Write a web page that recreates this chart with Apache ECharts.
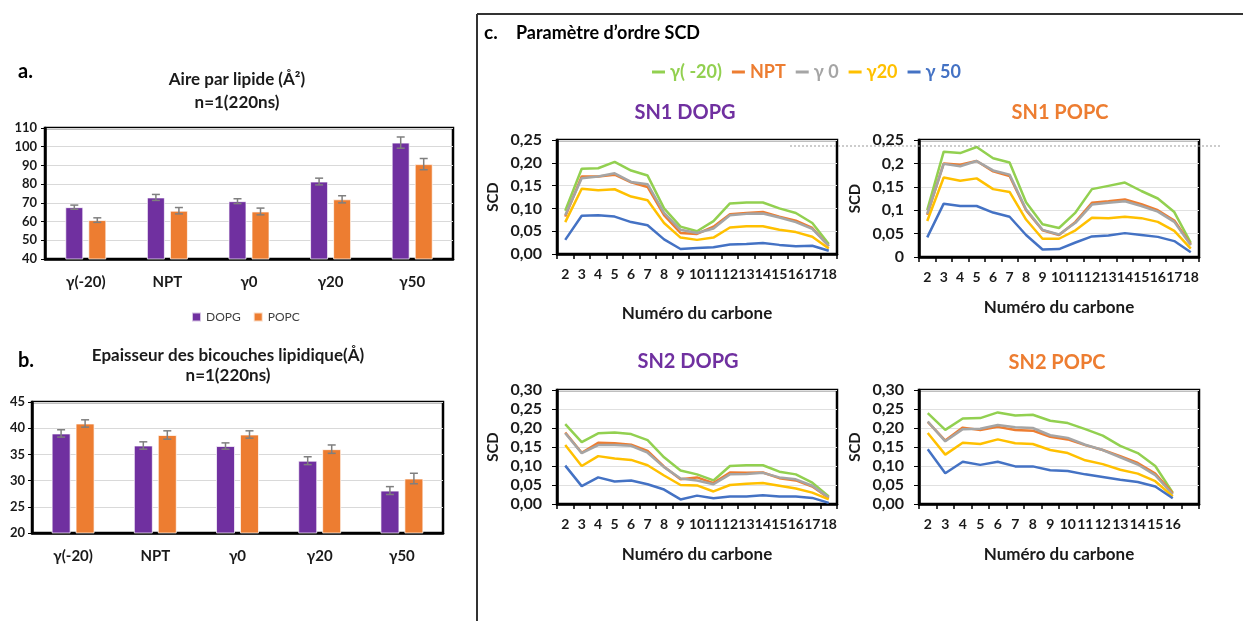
<!DOCTYPE html>
<html>
<head>
<meta charset="utf-8">
<script src="https://cdn.jsdelivr.net/npm/echarts@6/dist/echarts.min.js"></script>
<style>html,body{margin:0;padding:0;background:#fff;}#c{width:1243px;height:621px;}</style>
</head>
<body>
<div id="c"></div>
<script>
// ---------- DATA ----------
const conditions = ['γ(-20)', 'NPT', 'γ0', 'γ20', 'γ50'];
const barSeriesNames = ['DOPG', 'POPC'];

const areaDOPG = [67.7, 72.9, 70.9, 81.4, 102.2];
const areaDOPGErr = [1.1, 1.6, 1.3, 1.8, 3.0];
const areaPOPC = [60.8, 65.8, 65.4, 71.9, 90.7];
const areaPOPCErr = [1.2, 1.7, 1.8, 1.9, 3.0];

const thickDOPG = [39.0, 36.7, 36.6, 33.8, 28.1];
const thickDOPGErr = [0.7, 0.7, 0.6, 0.75, 0.75];
const thickPOPC = [40.9, 38.7, 38.8, 36.0, 30.4];
const thickPOPCErr = [0.7, 0.8, 0.7, 0.8, 1.0];

const scdNames = ['γ( -20)', 'NPT', 'γ 0', 'γ20', 'γ 50'];
const scdColors = ['#92D050', '#ED7D31', '#A5A5A5', '#FFC000', '#4472C4'];

const carbons18 = ['2','3','4','5','6','7','8','9','10','11','12','13','14','15','16','17','18'];
const carbons16 = ['2','3','4','5','6','7','8','9','10','11','12','13','14','15','16',''];

const sn1DOPG_m20 = [0.095,0.187,0.188,0.202,0.183,0.172,0.100,0.060,0.050,0.072,0.111,0.113,0.113,0.100,0.090,0.068,0.022];
const sn1DOPG_npt = [0.082,0.170,0.170,0.174,0.157,0.147,0.085,0.046,0.044,0.060,0.087,0.090,0.092,0.082,0.073,0.057,0.017];
const sn1DOPG_g0  = [0.085,0.166,0.170,0.177,0.158,0.153,0.090,0.053,0.046,0.056,0.085,0.088,0.089,0.080,0.070,0.055,0.018];
const sn1DOPG_g20 = [0.070,0.143,0.140,0.142,0.126,0.118,0.068,0.036,0.031,0.036,0.058,0.061,0.061,0.053,0.048,0.038,0.012];
const sn1DOPG_g50 = [0.031,0.084,0.085,0.082,0.070,0.063,0.032,0.011,0.013,0.015,0.021,0.022,0.024,0.020,0.017,0.018,0.007];

const sn1POPC_m20 = [0.100,0.225,0.222,0.235,0.211,0.202,0.117,0.070,0.062,0.095,0.145,0.152,0.159,0.141,0.125,0.096,0.030];
const sn1POPC_npt = [0.090,0.200,0.197,0.205,0.183,0.173,0.100,0.057,0.047,0.075,0.116,0.119,0.123,0.113,0.100,0.078,0.027];
const sn1POPC_g0  = [0.092,0.199,0.194,0.205,0.185,0.176,0.102,0.058,0.048,0.073,0.112,0.116,0.119,0.109,0.097,0.075,0.025];
const sn1POPC_g20 = [0.077,0.170,0.163,0.168,0.145,0.139,0.080,0.039,0.039,0.057,0.084,0.083,0.086,0.083,0.075,0.056,0.018];
const sn1POPC_g50 = [0.042,0.114,0.109,0.109,0.095,0.086,0.047,0.016,0.017,0.031,0.044,0.046,0.051,0.047,0.043,0.034,0.010];

const sn2DOPG_m20 = [0.210,0.163,0.186,0.188,0.184,0.168,0.123,0.088,0.078,0.062,0.100,0.102,0.102,0.085,0.078,0.056,0.020];
const sn2DOPG_npt = [0.188,0.135,0.161,0.160,0.156,0.140,0.098,0.065,0.070,0.055,0.083,0.082,0.083,0.068,0.062,0.046,0.016];
const sn2DOPG_g0  = [0.186,0.134,0.155,0.155,0.153,0.135,0.097,0.067,0.062,0.052,0.078,0.079,0.082,0.070,0.065,0.048,0.017];
const sn2DOPG_g20 = [0.155,0.100,0.126,0.120,0.116,0.102,0.075,0.050,0.049,0.033,0.050,0.053,0.055,0.048,0.041,0.030,0.012];
const sn2DOPG_g50 = [0.101,0.047,0.070,0.059,0.062,0.052,0.038,0.012,0.022,0.015,0.020,0.020,0.023,0.020,0.020,0.016,0.003];

const sn2POPC_m20 = [0.239,0.195,0.225,0.226,0.241,0.233,0.235,0.219,0.213,0.197,0.180,0.153,0.134,0.100,0.030];
const sn2POPC_npt = [0.216,0.167,0.201,0.195,0.203,0.195,0.193,0.177,0.170,0.155,0.142,0.126,0.108,0.080,0.028];
const sn2POPC_g0  = [0.217,0.165,0.197,0.198,0.208,0.202,0.200,0.181,0.174,0.156,0.142,0.123,0.104,0.076,0.025];
const sn2POPC_g20 = [0.187,0.130,0.161,0.158,0.170,0.160,0.158,0.142,0.134,0.115,0.105,0.090,0.080,0.060,0.020];
const sn2POPC_g50 = [0.144,0.081,0.111,0.103,0.111,0.099,0.099,0.089,0.087,0.078,0.071,0.064,0.058,0.046,0.015];

// ---------- CHART ----------
const FONT = 'Lato, "Open Sans", "Noto Sans", sans-serif';
const TXT = '#1a1a1a';
const chart = echarts.init(document.getElementById('c'), null, {renderer: 'canvas'});

const grids = [
  {left: 45, top: 128, width: 408, height: 131},
  {left: 32, top: 402, width: 411, height: 131},
  {left: 557, top: 140, width: 280, height: 114},
  {left: 919, top: 140, width: 280, height: 117},
  {left: 557, top: 390, width: 280, height: 114},
  {left: 919, top: 390, width: 280, height: 114}
].map(g => Object.assign({show: true, borderColor: '#000', borderWidth: 2.5, containLabel: false}, g));

function barX(gi) {
  return {
    type: 'category', gridIndex: gi, data: conditions,
    axisLine: {lineStyle: {color: '#000', width: 2.5}},
    axisTick: {show: false},
    axisLabel: {color: TXT, fontFamily: FONT, fontWeight: 'bold', fontSize: 15, margin: 16}
  };
}
function barY(gi, min, max, interval, margin) {
  return {
    type: 'value', gridIndex: gi, min, max, interval,
    axisLine: {show: true, lineStyle: {color: '#000', width: 2.5}},
    axisTick: {show: true, length: 4, lineStyle: {color: '#000'}},
    splitLine: {lineStyle: {color: '#d9d9d9', width: 1}},
    axisLabel: {color: TXT, fontFamily: FONT, fontWeight: 'bold', fontSize: 13, margin}
  };
}
function scdX(gi, cats, gap) {
  return {
    type: 'category', gridIndex: gi, data: cats, boundaryGap: true,
    axisLine: {lineStyle: {color: '#000', width: 2.5}},
    axisTick: {show: true, alignWithLabel: false, interval: 0, length: 5, lineStyle: {color: '#000', width: 1.5}},
    axisLabel: {interval: 0, color: TXT, fontFamily: FONT, fontWeight: 'bold', fontSize: 14, margin: 13},
    name: 'Numéro du carbone', nameLocation: 'middle', nameGap: gap,
    nameTextStyle: {color: TXT, fontFamily: FONT, fontWeight: 'bold', fontSize: 17}
  };
}
function scdY(gi, max, trim) {
  return {
    type: 'value', gridIndex: gi, min: 0, max, interval: 0.05,
    axisLine: {show: true, lineStyle: {color: '#000', width: 2.5}},
    axisTick: {show: true, length: 5, lineStyle: {color: '#000'}},
    splitLine: {lineStyle: {color: '#e0e0e0', width: 1}},
    axisLabel: {
      color: TXT, fontFamily: FONT, fontWeight: 'bold', fontSize: 16, margin: 15,
      formatter: v => (trim ? String(+v.toFixed(2)) : v.toFixed(2)).replace('.', ',')
    },
    name: 'SCD', nameLocation: 'middle', nameGap: 56, nameRotate: 90,
    nameTextStyle: {color: TXT, fontFamily: FONT, fontWeight: 'bold', fontSize: 15}
  };
}

function barSeries(gi, name, vals, color, width, gap) {
  return {
    type: 'bar', name, xAxisIndex: gi, yAxisIndex: gi, data: vals,
    barWidth: width, barGap: gap,
    itemStyle: {color, borderColor: 'rgba(255,255,255,0.7)', borderWidth: 1}
  };
}
function errSeries(gi, vals, errs, offset) {
  return {
    type: 'custom', xAxisIndex: gi, yAxisIndex: gi, silent: true, z: 10,
    data: vals.map((v, i) => [i, v, errs[i]]),
    encode: {x: 0, y: 1},
    renderItem: (params, api) => {
      const i = api.value(0), v = api.value(1), e = api.value(2);
      const hi = api.coord([i, v + e]);
      const lo = api.coord([i, v - e]);
      const x = hi[0] + offset, w = 4;
      const st = {stroke: '#7f7f7f', lineWidth: 1.5};
      return {type: 'group', children: [
        {type: 'line', shape: {x1: x, y1: hi[1], x2: x, y2: lo[1]}, style: st},
        {type: 'line', shape: {x1: x - w, y1: hi[1], x2: x + w, y2: hi[1]}, style: st},
        {type: 'line', shape: {x1: x - w, y1: lo[1], x2: x + w, y2: lo[1]}, style: st}
      ]};
    }
  };
}
function scdSeries(gi, arrays) {
  return arrays.map((arr, k) => ({
    type: 'line', name: scdNames[k], xAxisIndex: gi, yAxisIndex: gi, data: arr,
    showSymbol: false, symbol: 'none', lineStyle: {color: scdColors[k], width: 2.5},
    itemStyle: {color: scdColors[k]}
  }));
}

const series = [
  barSeries(0, barSeriesNames[0], areaDOPG, '#7030A0', 18, '28%'),
  barSeries(0, barSeriesNames[1], areaPOPC, '#ED7D31', 18, '28%'),
  errSeries(0, areaDOPG, areaDOPGErr, -11.5),
  errSeries(0, areaPOPC, areaPOPCErr, 11.5),
  barSeries(1, barSeriesNames[0], thickDOPG, '#7030A0', 19, '26%'),
  barSeries(1, barSeriesNames[1], thickPOPC, '#ED7D31', 19, '26%'),
  errSeries(1, thickDOPG, thickDOPGErr, -12),
  errSeries(1, thickPOPC, thickPOPCErr, 12),
  ...scdSeries(2, [sn1DOPG_m20, sn1DOPG_npt, sn1DOPG_g0, sn1DOPG_g20, sn1DOPG_g50]),
  ...scdSeries(3, [sn1POPC_m20, sn1POPC_npt, sn1POPC_g0, sn1POPC_g20, sn1POPC_g50]),
  ...scdSeries(4, [sn2DOPG_m20, sn2DOPG_npt, sn2DOPG_g0, sn2DOPG_g20, sn2DOPG_g50]),
  ...scdSeries(5, [sn2POPC_m20, sn2POPC_npt, sn2POPC_g0, sn2POPC_g20, sn2POPC_g50])
];

function txt(text, x, y, size, color, align) {
  return {type: 'text', silent: true, z: 100, style: {
    text, x, y, fill: color || TXT, align: align || 'center', textAlign: align || 'center',
    verticalAlign: 'middle', textVerticalAlign: 'middle',
    font: 'bold ' + size + 'px ' + FONT
  }};
}

const option = {
  backgroundColor: '#fff',
  animation: false,
  grid: grids,
  xAxis: [barX(0), barX(1), scdX(2, carbons18, 51), scdX(3, carbons18, 42), scdX(4, carbons18, 42), scdX(5, carbons16, 42)],
  yAxis: [barY(0, 40, 110, 10, 8), barY(1, 20, 45, 5, 7), scdY(2, 0.25, false), scdY(3, 0.25, true), scdY(4, 0.30, false), scdY(5, 0.30, false)],
  legend: [
    {
      data: barSeriesNames, left: 186, top: 306, icon: 'rect', itemWidth: 9, itemHeight: 9, itemGap: 12, itemTextGap: 4,
      textStyle: {color: '#404040', fontFamily: FONT, fontSize: 12}
    },
    {
      data: scdNames.map((n, k) => ({name: n, textStyle: {color: scdColors[k]}})),
      left: 647, top: 58, icon: 'rect', itemWidth: 13, itemHeight: 3, itemGap: 10, itemTextGap: 5,
      textStyle: {fontFamily: FONT, fontSize: 18, fontWeight: 'bold'}
    }
  ],
  series,
  graphic: [
    // panel c frame
    {type: 'line', silent: true, shape: {x1: 477, y1: 14, x2: 1243, y2: 14}, style: {stroke: '#333', lineWidth: 2}},
    {type: 'line', silent: true, shape: {x1: 477, y1: 14, x2: 477, y2: 621}, style: {stroke: '#333', lineWidth: 2}},
    // dashed reference line
    {type: 'line', silent: true, z: 50, shape: {x1: 790, y1: 146, x2: 1222, y2: 146}, style: {stroke: '#9a9a9a', lineWidth: 1, lineDash: [2, 2]}},
    // panel labels and titles
    txt('a.', 18, 72, 20, '#000', 'left'),
    txt('Aire par lipide (Å²)', 237, 80, 17),
    txt('n=1(220ns)', 237, 103, 17),
    txt('b.', 18, 361, 20, '#000', 'left'),
    txt('Epaisseur des bicouches lipidique(Å)', 228, 356, 17),
    txt('n=1(220ns)', 228, 376, 17),
    txt('c.', 484, 33, 19, '#000', 'left'),
    txt('Paramètre d’ordre SCD', 516, 33, 18, '#000', 'left'),
    txt('SN1 DOPG', 685, 113, 20, '#7030A0'),
    txt('SN1 POPC', 1060, 113, 20, '#ED7D31'),
    txt('SN2 DOPG', 688, 362, 20, '#7030A0'),
    txt('SN2 POPC', 1057, 363, 20, '#ED7D31')
  ]
};
chart.setOption(option);
</script>
</body>
</html>
